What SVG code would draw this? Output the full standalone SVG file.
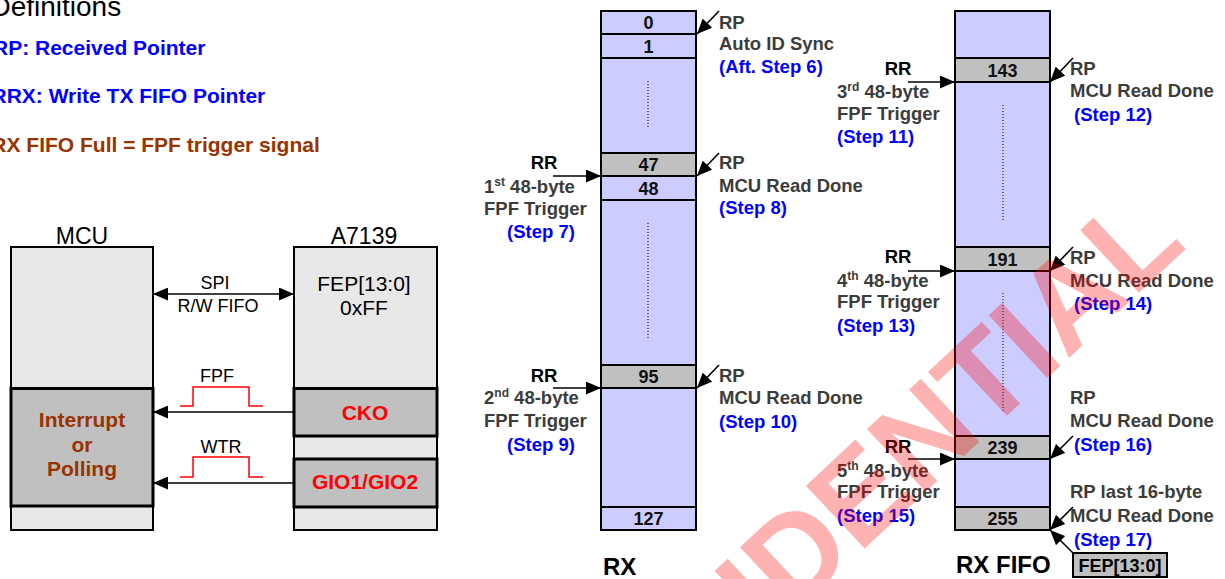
<svg xmlns="http://www.w3.org/2000/svg" width="1225" height="579" viewBox="0 0 1225 579">
<defs>
<marker id="ah" viewBox="0 0 15 13" refX="15" refY="6.5" markerWidth="15" markerHeight="13" markerUnits="userSpaceOnUse" orient="auto-start-reverse">
<path d="M0,0 L15,6.5 L0,13 z" fill="#000"/>
</marker>
<style>
text { font-family: "Liberation Sans", Arial, sans-serif; }
.def { font-size: 21px; font-weight: bold; }
.blue { fill: #0000ff; }
.brown { fill: #993300; }
.hdr { font-size: 23px; fill: #000; text-anchor: middle; }
.box { fill: #e8e8e8; stroke: #000; stroke-width: 2; }
.gbox { fill: #c0c0c0; stroke: #000; stroke-width: 3; }
.sig { font-size: 21px; font-weight: bold; text-anchor: middle; }
.red { fill: #ff0000; }
.small { font-size: 18px; text-anchor: middle; fill: #000; }
.pulse { fill: none; stroke: #ff0000; stroke-width: 1.5; }
.con { stroke: #000; stroke-width: 1.6; fill: none; }
.cell { fill: #ccccff; stroke: #000; stroke-width: 2; }
.gcell { fill: #c0c0c0; stroke: #000; stroke-width: 2; }
.num { font-size: 18px; font-weight: bold; text-anchor: middle; fill: #111; }
.lbl { font-size: 18.5px; font-weight: bold; fill: #3c3c3c; }
.rr { font-size: 18.5px; font-weight: bold; fill: #000; text-anchor: middle; }
.st { fill: #0000ff; }
.dot { stroke: #000; stroke-width: 1; stroke-dasharray: 1 2; }
.title { font-size: 24px; font-weight: bold; fill: #000; }
</style>
</defs>

<g id="definitions">
<text x="-9.6" y="16" style="font-size:28px" fill="#000">Definitions</text>
<text x="-7" y="54.5" class="def blue">RP: Received Pointer</text>
<text x="-8.5" y="103" class="def blue">RRX: Write TX FIFO Pointer</text>
<text x="-8.7" y="152" class="def brown">RX FIFO Full = FPF trigger signal</text>
</g>

<g id="mcu">
<text x="82" y="244" class="hdr">MCU</text>
<rect x="11" y="247" width="142" height="283" class="box"/>
<rect x="11" y="388.5" width="142" height="117.5" class="gbox"/>
<text x="82" y="427" class="sig brown">Interrupt</text>
<text x="82" y="452" class="sig brown">or</text>
<text x="82" y="476" class="sig brown">Polling</text>
</g>

<g id="a7139">
<text x="364" y="244" class="hdr">A7139</text>
<rect x="294" y="247" width="143" height="283" class="box"/>
<text x="364" y="291" class="hdr" style="font-size:21px">FEP[13:0]</text>
<text x="364" y="315" class="hdr" style="font-size:21px">0xFF</text>
<rect x="294" y="388.5" width="143" height="47.5" class="gbox"/>
<text x="365" y="420" class="sig red">CKO</text>
<rect x="294" y="459" width="143" height="48" class="gbox"/>
<text x="365" y="489" class="sig red">GIO1/GIO2</text>
</g>

<g id="signals">
<line x1="153" y1="294" x2="294" y2="294" class="con" marker-start="url(#ah)" marker-end="url(#ah)"/>
<text x="215" y="289" class="small">SPI</text>
<text x="218" y="312" class="small">R/W FIFO</text>
<line x1="294" y1="412" x2="153" y2="412" class="con" marker-end="url(#ah)"/>
<polyline points="180,406 193,406 193,387 249,387 249,406 263,406" class="pulse"/>
<text x="217" y="382" class="small red">FPF</text>
<line x1="294" y1="483" x2="153" y2="483" class="con" marker-end="url(#ah)"/>
<polyline points="180,477 193,477 193,457 249,457 249,477 263,477" class="pulse"/>
<text x="221" y="453" class="small red">WTR</text>
</g>

<g id="rx-column">
<rect x="601" y="11" width="95" height="23" class="cell"/>
<rect x="601" y="34" width="95" height="24" class="cell"/>
<rect x="601" y="58" width="95" height="95" class="cell"/>
<rect x="601" y="153" width="95" height="23" class="gcell"/>
<rect x="601" y="176" width="95" height="24" class="cell"/>
<rect x="601" y="200" width="95" height="165" class="cell"/>
<rect x="601" y="365" width="95" height="23" class="gcell"/>
<rect x="601" y="388" width="95" height="119" class="cell"/>
<rect x="601" y="507" width="95" height="23" class="cell"/>
<text x="648.5" y="29" class="num">0</text>
<text x="648.5" y="52.5" class="num">1</text>
<text x="648.5" y="171" class="num">47</text>
<text x="648.5" y="194.5" class="num">48</text>
<text x="648.5" y="383" class="num">95</text>
<text x="648.5" y="525" class="num">127</text>
<line x1="648" y1="81" x2="648" y2="127" class="dot"/>
<line x1="648" y1="223" x2="648" y2="340" class="dot"/>
<text x="603" y="575" class="title">RX</text>
</g>

<g id="rxfifo-column">
<rect x="955" y="11" width="95" height="47" class="cell"/>
<rect x="955" y="58" width="95" height="24" class="gcell"/>
<rect x="955" y="82" width="95" height="165" class="cell"/>
<rect x="955" y="247" width="95" height="24" class="gcell"/>
<rect x="955" y="271" width="95" height="165" class="cell"/>
<rect x="955" y="436" width="95" height="23" class="gcell"/>
<rect x="955" y="459" width="95" height="48" class="cell"/>
<rect x="955" y="507" width="95" height="23" class="gcell"/>
<text x="1002.5" y="76.5" class="num">143</text>
<text x="1002.5" y="265.5" class="num">191</text>
<text x="1002.5" y="454" class="num">239</text>
<text x="1002.5" y="525" class="num">255</text>
<line x1="1003" y1="105" x2="1003" y2="222" class="dot"/>
<line x1="1003" y1="293" x2="1003" y2="412" class="dot"/>
<text x="956" y="573" class="title">RX FIFO</text>
</g>

<g id="fep-box">
<rect x="1073" y="553" width="94" height="24" fill="#c0c0c0" stroke="#000" stroke-width="2"/>
<text x="1120" y="572" class="num" style="fill:#000">FEP[13:0]</text>
</g>

<g id="connectors">
<line x1="719" y1="11" x2="697" y2="34" class="con" marker-end="url(#ah)"/>
<line x1="719" y1="153" x2="697" y2="176" class="con" marker-end="url(#ah)"/>
<line x1="719" y1="365" x2="697" y2="388" class="con" marker-end="url(#ah)"/>
<line x1="553" y1="176" x2="601" y2="176" class="con" marker-end="url(#ah)"/>
<line x1="553" y1="388" x2="601" y2="388" class="con" marker-end="url(#ah)"/>
<line x1="908" y1="82" x2="955" y2="82" class="con" marker-end="url(#ah)"/>
<line x1="908" y1="271" x2="955" y2="271" class="con" marker-end="url(#ah)"/>
<line x1="908" y1="459" x2="955" y2="459" class="con" marker-end="url(#ah)"/>
<line x1="1073" y1="58" x2="1050" y2="82" class="con" marker-end="url(#ah)"/>
<line x1="1073" y1="247" x2="1050" y2="271" class="con" marker-end="url(#ah)"/>
<line x1="1073" y1="436" x2="1050" y2="459" class="con" marker-end="url(#ah)"/>
<line x1="1073" y1="507" x2="1050" y2="530" class="con" marker-end="url(#ah)"/>
<line x1="1073" y1="553" x2="1050" y2="530" class="con" marker-end="url(#ah)"/>
</g>

<g id="rx-labels">
<text x="719" y="29" class="lbl">RP</text>
<text x="719" y="50" class="lbl">Auto ID Sync</text>
<text x="719" y="73" class="lbl st">(Aft. Step 6)</text>
<text x="719" y="169" class="lbl">RP</text>
<text x="719" y="192" class="lbl">MCU Read Done</text>
<text x="719" y="214" class="lbl st">(Step 8)</text>
<text x="719" y="382" class="lbl">RP</text>
<text x="719" y="404" class="lbl">MCU Read Done</text>
<text x="719" y="428" class="lbl st">(Step 10)</text>
<text x="544" y="169" class="rr">RR</text>
<text x="484" y="193" class="lbl">1<tspan font-size="12" dy="-7">st</tspan><tspan dy="7"> 48-byte</tspan></text>
<text x="484" y="215" class="lbl">FPF Trigger</text>
<text x="507" y="238" class="lbl st">(Step 7)</text>
<text x="544" y="382" class="rr">RR</text>
<text x="484" y="404" class="lbl">2<tspan font-size="12" dy="-7">nd</tspan><tspan dy="7"> 48-byte</tspan></text>
<text x="484" y="427" class="lbl">FPF Trigger</text>
<text x="507" y="451" class="lbl st">(Step 9)</text>
</g>

<g id="rxfifo-labels">
<text x="898" y="75" class="rr">RR</text>
<text x="837" y="98" class="lbl">3<tspan font-size="12" dy="-7">rd</tspan><tspan dy="7"> 48-byte</tspan></text>
<text x="837" y="120" class="lbl">FPF Trigger</text>
<text x="837" y="143" class="lbl st">(Step 11)</text>
<text x="898" y="263" class="rr">RR</text>
<text x="837" y="287" class="lbl">4<tspan font-size="12" dy="-7">th</tspan><tspan dy="7"> 48-byte</tspan></text>
<text x="837" y="308" class="lbl">FPF Trigger</text>
<text x="837" y="332" class="lbl st">(Step 13)</text>
<text x="898" y="453" class="rr">RR</text>
<text x="837" y="477" class="lbl">5<tspan font-size="12" dy="-7">th</tspan><tspan dy="7"> 48-byte</tspan></text>
<text x="837" y="498" class="lbl">FPF Trigger</text>
<text x="837" y="522" class="lbl st">(Step 15)</text>
<text x="1070" y="75" class="lbl">RP</text>
<text x="1070" y="97" class="lbl">MCU Read Done</text>
<text x="1074" y="121" class="lbl st">(Step 12)</text>
<text x="1070" y="264" class="lbl">RP</text>
<text x="1070" y="287" class="lbl">MCU Read Done</text>
<text x="1074" y="310" class="lbl st">(Step 14)</text>
<text x="1070" y="404" class="lbl">RP</text>
<text x="1070" y="427" class="lbl">MCU Read Done</text>
<text x="1074" y="451" class="lbl st">(Step 16)</text>
<text x="1070" y="498" class="lbl">RP last 16-byte</text>
<text x="1070" y="522" class="lbl">MCU Read Done</text>
<text x="1074" y="546" class="lbl st">(Step 17)</text>
</g>

<g id="watermark">
<text transform="translate(508,881) rotate(-43)" x="0" y="0" style="font-size:125px;font-weight:bold" fill="#ff0000" fill-opacity="0.3">CONFIDENTIAL</text>
</g>
</svg>
